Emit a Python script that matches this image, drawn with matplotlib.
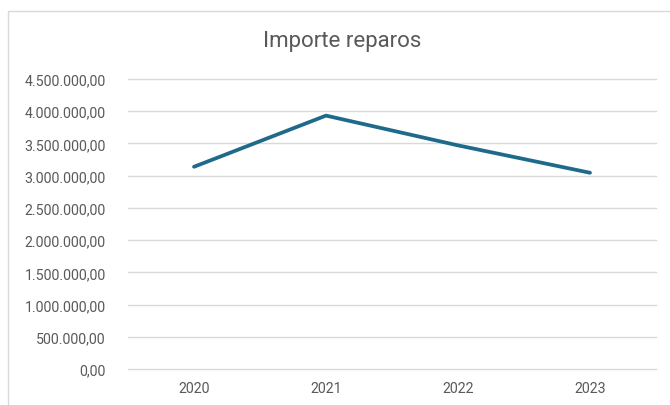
import matplotlib.pyplot as plt
from matplotlib.patches import Rectangle
from matplotlib.ticker import FuncFormatter

years = ['2020', '2021', '2022', '2023']
importe = [3138000, 3932000, 3470000, 3045000]
yticks = [0, 500000, 1000000, 1500000, 2000000, 2500000, 3000000, 3500000, 4000000, 4500000]

plt.rcParams['font.family'] = 'Roboto'
gray = '#595959'


def fmt_es(v, pos=None):
    s = '{:,.2f}'.format(v)
    return s.replace(',', 'X').replace('.', ',').replace('X', '.')


fig = plt.figure(figsize=(6.7, 4.06), dpi=100)
ax = fig.add_axes([128 / 670, 1 - 370 / 406, (656 - 128) / 670, (370 - 80) / 406])

x = range(len(years))
ax.plot(x, importe, color='#1F6A8B', linewidth=2.7, solid_capstyle='round', zorder=3)

ax.set_xlim(-0.5, len(years) - 0.5)
ax.set_ylim(0, 4500000)
ax.set_xticks(list(x))
ax.set_xticklabels(years)
ax.set_yticks(yticks)
ax.yaxis.set_major_formatter(FuncFormatter(fmt_es))
ax.tick_params(length=0, colors=gray, labelsize=10.2)
ax.tick_params(axis='y', pad=16)
ax.tick_params(axis='x', pad=9)
ax.grid(axis='y', color='#D9D9D9', linewidth=1)
for gl in ax.get_ygridlines():
    gl.set_clip_on(False)
ax.set_axisbelow(True)
for sp in ax.spines.values():
    sp.set_visible(False)

fig.text(342 / 670, 1 - 42 / 406, 'Importe reparos', ha='center', va='center',
         fontsize=16, color=gray)

# chart border
fig.patches.append(Rectangle((8 / 670, -0.1), 1.2, 1 - 12 / 406 + 0.1,
                             transform=fig.transFigure, fill=False,
                             edgecolor='#D9D9D9', linewidth=1))

fig.savefig('out.png', dpi=100)
